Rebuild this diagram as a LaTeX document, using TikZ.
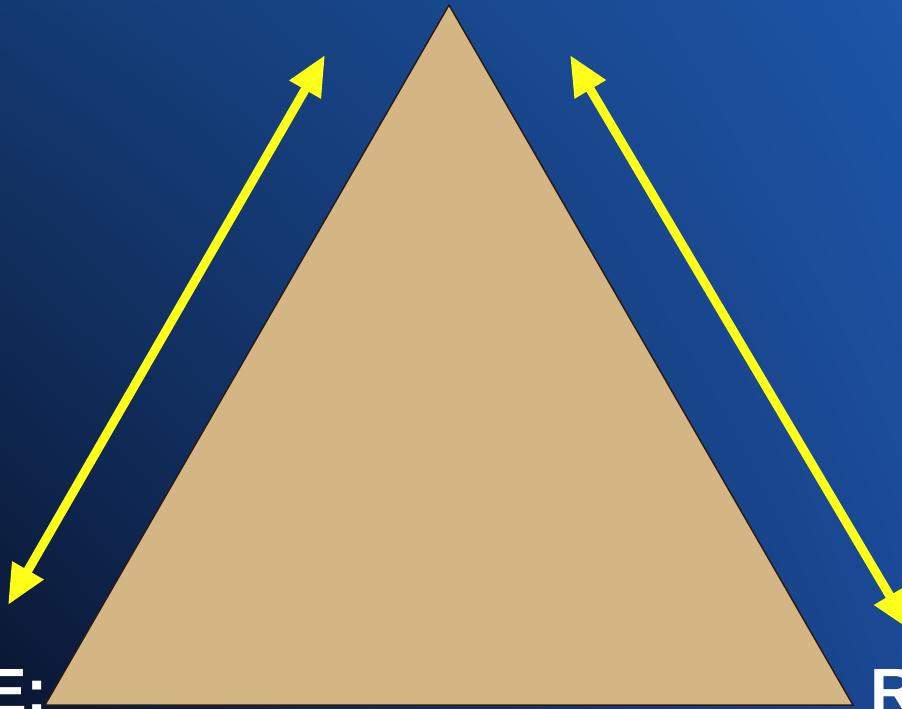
\documentclass[tikz,border=0pt]{standalone}
\usepackage{fontspec}
\setmainfont{Liberation Sans}
\usetikzlibrary{arrows.meta,shadings}

\definecolor{skytl}{HTML}{143A72}
\definecolor{skytr}{HTML}{1D55A8}
\definecolor{skybl}{HTML}{0A1631}
\definecolor{skybr}{HTML}{1A4893}
\definecolor{sand}{HTML}{D4B584}
\definecolor{sandedge}{HTML}{2B1A12}
\definecolor{arrowyellow}{HTML}{FFFF1A}

\tikzset{
  sidearrow/.style={arrowyellow, line width=9pt,
    {Triangle[length=40pt,width=34pt]}-{Triangle[length=40pt,width=34pt]}},
  cornerlabel/.style={text=white, inner sep=0pt, font=\fontsize{64}{70}\selectfont\bfseries},
}

\begin{document}
\begin{tikzpicture}[x=1pt,y=-1pt]
  % Background
  \useasboundingbox (0,0) rectangle (902,709);
  \shade[upper left=skytl, upper right=skytr, lower left=skybl, lower right=skybr]
    (0,0) rectangle (902,709);

  % Corners
  \coordinate (apex) at (449,5);
  \coordinate (left) at (45,705);
  \coordinate (right) at (853,705);

  \coordinate (la) at (8,605);
  \coordinate (lb) at (325,55);
  \coordinate (ra) at (570,55);
  \coordinate (rb) at (910,630);

  \fill[sand, draw=sandedge, line width=1.5pt, line join=miter] (apex) -- (right) -- (left) -- cycle;

  \draw[sidearrow] (la) -- (lb);
  \draw[sidearrow] (ra) -- (rb);

  \node[cornerlabel, anchor=base west] (elabel) at (-16,713) {E:};
  \node[cornerlabel, anchor=base west] (rlabel) at (870,713) {R};
\end{tikzpicture}
\end{document}
